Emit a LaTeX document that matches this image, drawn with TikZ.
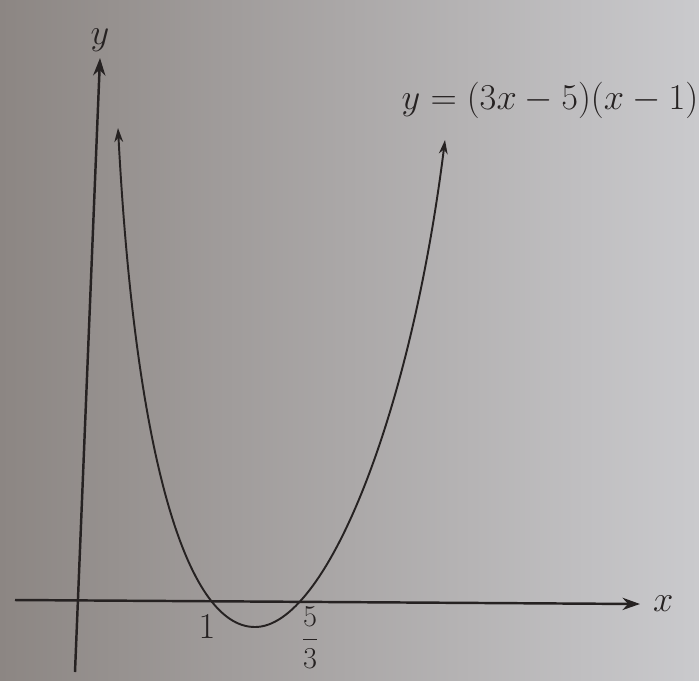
\documentclass[tikz,border=0pt]{standalone}
\usepackage{amsmath,amssymb}
\usepackage{xcolor}
\usepackage{tikz}
\usetikzlibrary{arrows,arrows.meta,positioning,calc}
\definecolor{paperdark}{RGB}{140, 134, 131}
\definecolor{papermid}{RGB}{148, 142, 139}
\definecolor{paperlight}{RGB}{202, 202, 205}
\definecolor{inkgray}{RGB}{38, 34, 34}

\begin{document}
\begin{tikzpicture}[x=0.02cm, y=-0.02cm, >=stealth]
    % Photo background
    \shade[left color=paperdark, middle color=papermid, right color=paperlight] (0,0) rectangle (699,680);
    \useasboundingbox (0,0) rectangle (699,680);

    \tikzset{axisline/.style={line width=1.4pt, color=inkgray},
             curveline/.style={line width=1.1pt, color=inkgray},
             lbl/.style={text=inkgray, font=\fontsize{20}{24}\selectfont}}

    % Axes
    \coordinate (xs) at (15,600);
    \coordinate (xe) at (640,604);
    \coordinate (ys) at (75,672);
    \coordinate (ye) at (100,58);
    \draw[axisline, -{Stealth[length=10pt, width=7pt]}] (xs) -- (xe);
    \draw[axisline, -{Stealth[length=10pt, width=7pt]}] (ys) -- (ye);
    \node[lbl, right=4pt of xe] (xlab) {$x$};
    \node[lbl, above=0pt of ye] (ylab) {$y$};

    % Parabola y = (3x-5)(x-1)
    \coordinate (cl) at (118,128);
    \coordinate (vx) at (255,627);
    \coordinate (cr) at (445,140);
    \draw[curveline, {Stealth[length=8pt, width=5pt]}-{Stealth[length=8pt, width=5pt]}]
        (cl) .. controls (135,450) and (185,627) .. (vx)
             .. controls (325,627) and (410,420) .. (cr);

    % Roots
    \coordinate (r1) at (207,602);
    \coordinate (r2) at (310,605);
    \node[lbl, below=4pt of r1] (one) {$1$};
    \node[lbl, font=\fontsize{17}{20}\selectfont, anchor=north, inner sep=1pt] (fivethirds) at (r2) {$\dfrac{5}{3}$};

    % Equation label
    \node[lbl, font=\fontsize{21}{24}\selectfont] (eqn) at (550,100) {$y=(3x-5)(x-1)$};
\end{tikzpicture}
\end{document}
